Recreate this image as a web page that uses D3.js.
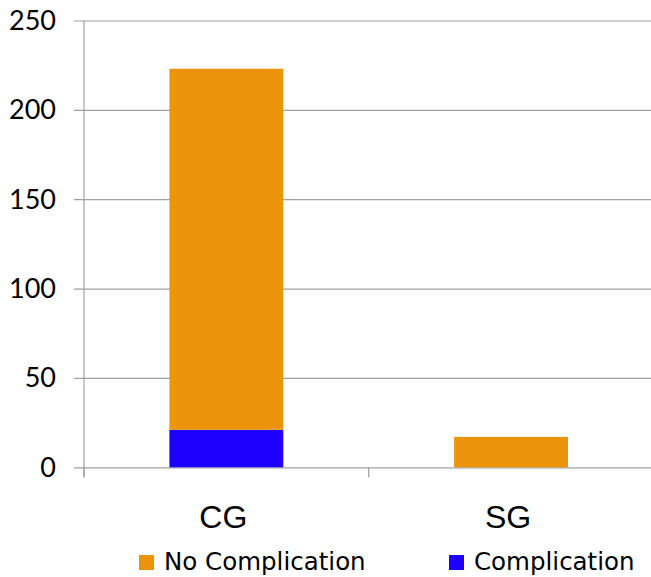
<!DOCTYPE html>
<html>
<head>
<meta charset="utf-8">
<script src="https://cdn.jsdelivr.net/npm/d3@7/dist/d3.min.js"></script>
<style>
  html, body { margin: 0; padding: 0; background: #fff; }
  svg { display: block; }
</style>
</head>
<body>
<script>
// Stacked counts per group
const groups = ["CG", "SG"];
const seriesNames = ["Complication", "No Complication"];
const complication = [21, 0];
const noComplication = [202, 17];
const yTicks = [0, 50, 100, 150, 200, 250];
const legendOrder = ["No Complication", "Complication"];
const colors = { "No Complication": "#EC930C", "Complication": "#1E00FF" };

const W = 651, H = 577;
const plotLeft = 84, plotRight = 653.4, plotTop = 20.5, plotBottom = 467.3;

const svg = d3.select("body").append("svg").attr("width", W).attr("height", H);

const x = d3.scaleBand().domain(groups).range([plotLeft, plotRight]).paddingInner(0).paddingOuter(0);
const y = d3.scaleLinear().domain([0, 250]).range([plotBottom, plotTop]);

const rows = groups.map((g, i) => ({ group: g, "Complication": complication[i], "No Complication": noComplication[i] }));
const stacked = d3.stack().keys(seriesNames)(rows);

// horizontal gridlines with left tick stubs
const yAxis = d3.axisLeft(y).tickValues(yTicks).tickSizeOuter(0).tickPadding(0).tickFormat("");
const gy = svg.append("g").attr("transform", `translate(${plotLeft},0)`).call(yAxis);
gy.select(".domain").remove();
gy.selectAll(".tick line").attr("x1", -10).attr("x2", W - plotLeft).attr("stroke", "#a0a0a0").attr("stroke-width", 1.2);

// y tick labels
svg.append("g").selectAll("text").data(yTicks).join("text")
  .attr("x", 56).attr("y", d => y(d))
  .attr("dy", "0.35em")
  .attr("text-anchor", "end")
  .attr("font-family", "Lato, 'Open Sans', sans-serif")
  .attr("font-size", 27)
  .attr("fill", "#000")
  .text(d => d);

// vertical axis line
svg.append("line").attr("x1", plotLeft).attr("x2", plotLeft).attr("y1", plotTop).attr("y2", plotBottom + 10)
  .attr("stroke", "#a0a0a0").attr("stroke-width", 1.2);

// category boundary ticks below baseline
const bounds = [plotLeft, x("SG"), plotRight];
svg.append("g").selectAll("line").data(bounds).join("line")
  .attr("x1", d => d).attr("x2", d => d).attr("y1", plotBottom).attr("y2", plotBottom + 10)
  .attr("stroke", "#a0a0a0").attr("stroke-width", 1.2);

// bars
const barW = x.bandwidth() * 0.4;
svg.append("g").selectAll("g").data(stacked).join("g")
  .attr("fill", d => colors[d.key])
  .selectAll("rect").data(d => d).join("rect")
  .attr("x", d => x(d.data.group) + (x.bandwidth() - barW) / 2)
  .attr("width", barW)
  .attr("y", d => y(d[1]))
  .attr("height", d => y(d[0]) - y(d[1]));

// category labels
svg.append("g").selectAll("text").data(groups).join("text")
  .attr("x", d => x(d) + x.bandwidth() / 2 - 3)
  .attr("y", 528)
  .attr("text-anchor", "middle")
  .attr("font-family", "'Liberation Sans', Arial, sans-serif")
  .attr("font-size", 32)
  .attr("fill", "#000")
  .text(d => d);

// legend
const legendX = [139, 449];
const lg = svg.append("g").selectAll("g").data(legendOrder).join("g")
  .attr("transform", (d, i) => `translate(${legendX[i]},555)`);
lg.append("rect").attr("width", 15).attr("height", 15).attr("fill", d => colors[d]);
lg.append("text").attr("x", 25).attr("y", 15)
  .attr("font-family", "'DejaVu Sans', sans-serif")
  .attr("font-size", 24.5)
  .attr("fill", "#000")
  .text(d => d);
</script>
</body>
</html>
